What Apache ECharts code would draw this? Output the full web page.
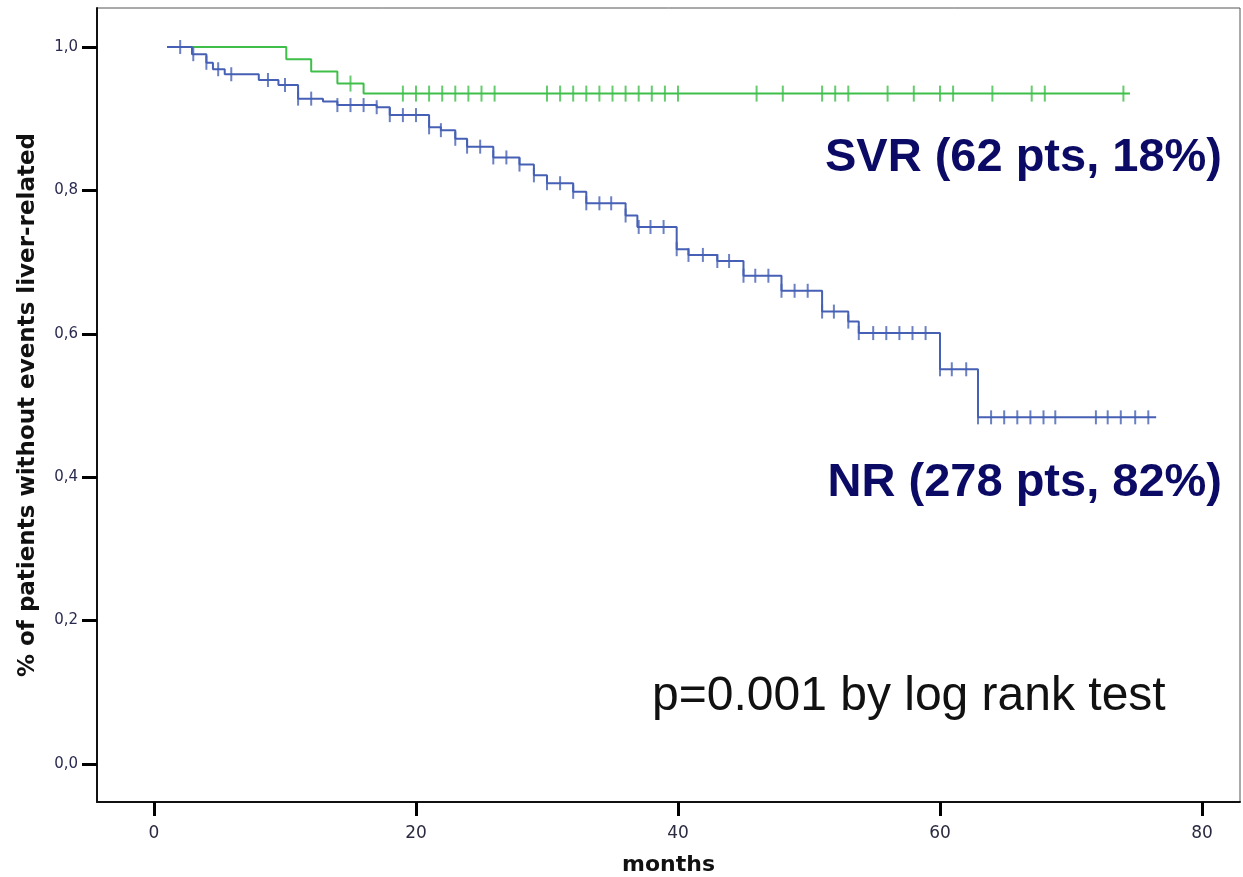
<!DOCTYPE html>
<html>
<head>
<meta charset="utf-8">
<script src="https://cdn.jsdelivr.net/npm/echarts@6/dist/echarts.min.js"></script>
<style>html,body{margin:0;padding:0;background:#fff}#c{width:1243px;height:877px}</style>
</head>
<body>
<div id="c"></div>
<script>
// ---- data (months, survival proportion) ----
var svrStart = [1.0, 1.0];
var svrEventTimes = [10.1, 12.0, 14.0, 16.0];
var svrEventValues = [0.983, 0.966, 0.949, 0.935];
var svrEnd = 74.5;
var svrCensorTimes = [15, 19, 20, 21, 22, 23, 24, 25, 26, 30, 31, 32, 33, 34, 35, 36, 37, 38, 39, 40, 46, 48, 51, 52, 53, 56, 58, 60, 61, 64, 67, 68, 74];

var nrStart = [1.0, 1.0];
var nrEventTimes = [2.9, 4.0, 4.5, 5.4, 8.0, 9.5, 11.0, 12.9, 14.0, 17.0, 18.0, 21.0, 21.9, 23.0, 23.9, 25.9, 27.9, 29.0, 30.0, 32.0, 33.0, 36.0, 36.9, 39.9, 40.8, 43.0, 45.0, 47.9, 51.0, 53.0, 53.8, 60.0, 62.9];
var nrEventValues = [0.990, 0.978, 0.969, 0.962, 0.954, 0.947, 0.928, 0.924, 0.919, 0.916, 0.905, 0.888, 0.884, 0.872, 0.861, 0.846, 0.836, 0.821, 0.810, 0.798, 0.782, 0.765, 0.749, 0.718, 0.710, 0.7015, 0.681, 0.660, 0.631, 0.617, 0.601, 0.5505, 0.4835];
var nrEnd = 76.5;
var nrCensorTimes = [2.0, 3.0, 4.0, 4.9, 5.9, 8.7, 10.0, 11.0, 12.0, 14.0, 15.0, 16.0, 17.0, 18.0, 19.0, 20.0, 21.0, 21.9, 23.0, 23.9, 24.9, 25.9, 26.9, 27.9, 29.0, 30.0, 31.0, 32.0, 33.0, 34.0, 34.9, 36.0, 37.0, 37.9, 38.9, 39.9, 40.8, 41.9, 43.0, 43.9, 45.0, 45.9, 46.9, 47.9, 48.9, 49.9, 51.0, 51.9, 53.0, 53.8, 54.9, 55.9, 56.9, 57.9, 58.9, 60.0, 60.9, 62.0, 62.9, 63.9, 64.9, 65.9, 66.9, 67.9, 68.8, 71.9, 72.8, 73.8, 74.9, 75.9];

var xTicks = [0, 20, 40, 60, 80];
var yTicks = [0, 0.2, 0.4, 0.6, 0.8, 1.0];

// ---- helpers ----
function stepPath(start, times, vals, end) {
  var pts = [[start[0], start[1]]];
  var prev = start[1];
  for (var i = 0; i < times.length; i++) {
    pts.push([times[i], prev]);
    pts.push([times[i], vals[i]]);
    prev = vals[i];
  }
  pts.push([end, prev]);
  return pts;
}
function survAt(t, start, times, vals) {
  var s = start[1];
  for (var i = 0; i < times.length; i++) { if (times[i] <= t + 1e-9) s = vals[i]; }
  return s;
}
function censorPts(ct, start, times, vals) {
  return ct.map(function (t) { return [t, survAt(t, start, times, vals)]; });
}

var GREEN = '#3fbf4a', BLUE = '#4560b4', NAVY = '#0b0b66';

var chart = echarts.init(document.getElementById('c'), null, {renderer: 'canvas'});
chart.setOption({
  animation: false,
  backgroundColor: '#fff',
  grid: {left: 97, right: 3, top: 8, bottom: 75, show: true, borderColor: '#555', borderWidth: 1,
    containLabel: false, outerBoundsMode: 'none'},
  xAxis: {
    type: 'value', min: -4.35, max: 82.9,
    name: 'months', nameLocation: 'middle', nameGap: 52,
    nameTextStyle: {fontFamily: 'DejaVu Sans', fontWeight: 'bold', fontSize: 22, color: '#111'},
    axisLine: {show: true, onZero: false, lineStyle: {color: '#111', width: 2}},
    axisTick: {show: true, length: 14, lineStyle: {color: '#000', width: 3}, customValues: xTicks},
    axisLabel: {customValues: xTicks, margin: 23, fontFamily: 'DejaVu Sans', fontSize: 17, color: '#2a2a40'},
    splitLine: {show: false}
  },
  yAxis: {
    type: 'value', min: -0.053, max: 1.0544,
    name: '% of patients without events liver-related', nameLocation: 'middle', nameGap: 57,
    nameTextStyle: {fontFamily: 'DejaVu Sans', fontWeight: 'bold', fontSize: 23, color: '#111'},
    axisLine: {show: true, onZero: false, lineStyle: {color: '#111', width: 2}},
    axisTick: {show: true, length: 15, lineStyle: {color: '#000', width: 3}, customValues: yTicks},
    axisLabel: {customValues: yTicks, margin: 19, fontFamily: 'DejaVu Sans', fontSize: 15, color: '#2a2a50',
      formatter: function (v) { return v.toFixed(1).replace('.', ','); }},
    splitLine: {show: false}
  },
  series: [
    {type: 'line', data: stepPath(svrStart, svrEventTimes, svrEventValues, svrEnd), showSymbol: false,
      lineStyle: {color: GREEN, width: 2}, z: 2},
    {type: 'scatter', data: censorPts(svrCensorTimes, svrStart, svrEventTimes, svrEventValues),
      symbol: 'rect', symbolSize: [2, 16], itemStyle: {color: GREEN}, z: 2},
    {type: 'line', data: stepPath(nrStart, nrEventTimes, nrEventValues, nrEnd), showSymbol: false,
      lineStyle: {color: BLUE, width: 2}, z: 3},
    {type: 'scatter', data: censorPts(nrCensorTimes, nrStart, nrEventTimes, nrEventValues),
      symbol: 'rect', symbolSize: [2, 14], itemStyle: {color: BLUE}, z: 3}
  ],
  graphic: [
    {type: 'text', x: 1222, y: 158, style: {text: 'SVR (62 pts, 18%)', font: 'bold 47px "Liberation Sans", Arial', fill: NAVY, align: 'right', verticalAlign: 'middle'}},
    {type: 'text', x: 1222, y: 483, style: {text: 'NR (278 pts, 82%)', font: 'bold 47px "Liberation Sans", Arial', fill: NAVY, align: 'right', verticalAlign: 'middle'}},
    {type: 'text', x: 652, y: 697, style: {text: 'p=0.001 by log rank test', font: '48px "Liberation Sans", Arial', fill: '#111', align: 'left', verticalAlign: 'middle'}}
  ]
});
</script>
</body>
</html>
